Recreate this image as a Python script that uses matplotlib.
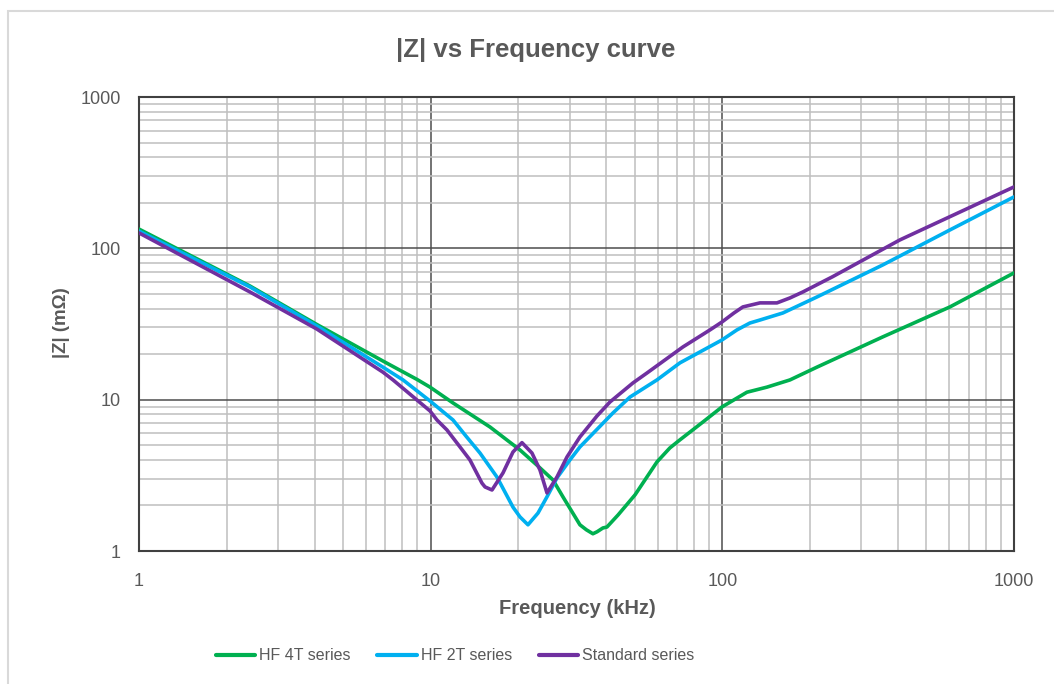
import matplotlib
matplotlib.use("Agg")
import matplotlib.pyplot as plt
from matplotlib.patches import Rectangle
from matplotlib.ticker import LogLocator, FixedLocator, FixedFormatter, NullFormatter

plt.rcParams['font.family'] = ['Liberation Sans', 'DejaVu Sans']

# ---- data (kHz, mOhm) ----
f_4t = [1.0, 2.40, 4.07, 6.86, 8.98, 9.95, 11.93, 15.97, 20.24, 23.3, 26.26, 28.41,
        32.49, 34.2, 36.0, 37.2, 38.96, 40.21, 43.9, 50.2, 59.7, 66.1, 71.5, 85.8,
        99.7, 121.4, 142.2, 170.5, 211.0, 355.0, 603.0, 1000.0]
z_4t = [134, 56.4, 31.4, 18.0, 13.6, 12.1, 9.51, 6.60, 4.65, 3.65, 2.95, 2.28,
        1.49, 1.38, 1.30, 1.34, 1.42, 1.44, 1.73, 2.35, 3.88, 4.80, 5.42, 7.12,
        8.95, 11.2, 12.1, 13.5, 16.4, 26.0, 41.0, 68.8]

f_2t = [1.0, 2.40, 4.07, 6.86, 8.04, 9.95, 11.93, 13.2, 14.76, 16.88, 19.15, 20.24,
        21.56, 23.33, 25.05, 27.10, 30.03, 32.49, 42.17, 48.22, 59.67, 71.54, 99.7,
        112.2, 124.3, 134.6, 161.3, 211.0, 355.0, 603.0, 1000.0]
z_2t = [130, 55.6, 30.7, 16.4, 13.5, 9.80, 7.34, 5.76, 4.44, 3.08, 1.95, 1.68,
        1.49, 1.78, 2.28, 3.04, 4.00, 4.87, 8.17, 10.4, 13.5, 17.5, 24.8,
        28.9, 32.1, 33.6, 37.4, 47.7, 77.7, 132.3, 218.7]

f_std = [1.0, 2.40, 4.07, 6.86, 7.43, 9.95, 10.51, 11.37, 12.31, 13.63, 14.99, 15.36,
         16.23, 17.70, 19.15, 20.56, 22.25, 23.70, 25.05, 27.10, 29.33, 32.49, 37.17,
         41.17, 49.38, 55.14, 73.26, 90.7, 99.7, 109.6, 117.6, 134.6, 153.9, 170.5,
         188.9, 239.0, 406.0, 1000.0]
z_std = [126.4, 51.5, 29.3, 15.2, 13.5, 8.42, 7.34, 6.31, 5.17, 4.00, 2.81, 2.65,
         2.53, 3.28, 4.51, 5.2, 4.44, 3.43, 2.42, 3.08, 4.18, 5.67, 7.80,
         9.65, 12.9, 15.0, 22.3, 28.9, 32.6, 37.4, 41.0, 43.6, 43.6, 47.0,
         51.5, 65.0, 113.6, 254.6]

series_names = ["HF 4T series", "HF 2T series", "Standard series"]
series_colors = ["#00B050", "#00B0F0", "#7030A0"]

x_ticks = [1, 10, 100, 1000]
x_labels = ["1", "10", "100", "1000"]
y_ticks = [1, 10, 100, 1000]
y_labels = ["1", "10", "100", "1000"]

W, H = 1054, 684
fig = plt.figure(figsize=(W / 100, H / 100), dpi=100)

# outer chart border (cropped)
fig.patches.append(Rectangle((8 / W, -0.05), 1.2, (H - 11) / H + 0.05,
                             transform=fig.transFigure, fill=False,
                             edgecolor="#D9D9D9", linewidth=1.5))

ax = fig.add_axes([139 / W, 1 - 551 / H, (1014 - 139) / W, (551 - 97) / H])
ax.set_xscale("log")
ax.set_yscale("log")
ax.set_xlim(1, 1000)
ax.set_ylim(1, 1000)

for f, z, name, c in zip([f_4t, f_2t, f_std], [z_4t, z_2t, z_std], series_names, series_colors):
    ax.plot(f, z, color=c, lw=2.6, label=name, solid_capstyle="round",
            solid_joinstyle="round", zorder=3)

ax.xaxis.set_major_locator(FixedLocator(x_ticks))
ax.xaxis.set_major_formatter(FixedFormatter(x_labels))
ax.yaxis.set_major_locator(FixedLocator(y_ticks))
ax.yaxis.set_major_formatter(FixedFormatter(y_labels))
ax.xaxis.set_minor_locator(LogLocator(base=10, subs=range(2, 10), numticks=20))
ax.yaxis.set_minor_locator(LogLocator(base=10, subs=range(2, 10), numticks=20))
ax.xaxis.set_minor_formatter(NullFormatter())
ax.yaxis.set_minor_formatter(NullFormatter())

ax.grid(which="minor", color="#BFBFBF", lw=1.1, zorder=1)
ax.grid(which="major", color="#4D4D4D", lw=1.1, zorder=2)
ax.set_axisbelow(True)
ax.tick_params(which="both", length=0, labelsize=13, labelcolor="#595959")
ax.tick_params(axis="x", pad=16)
ax.tick_params(axis="y", pad=13)
for s in ax.spines.values():
    s.set_color("#404040")
    s.set_linewidth(1.5)

fig.text(536 / W, 1 - 50 / H, "|Z| vs Frequency curve", ha="center", va="center",
         fontsize=18.5, fontweight="bold", color="#595959")
fig.text(577 / W, 1 - 608 / H, "Frequency (kHz)", ha="center", va="center",
         fontsize=14.5, fontweight="bold", color="#595959")
fig.text(62 / W, 1 - 323 / H, "|Z| (mΩ)", ha="center", va="center", rotation=90,
         fontsize=13.5, fontweight="bold", color="#595959")

handles, labels = ax.get_legend_handles_labels()
leg = fig.legend(handles, labels, loc="center", bbox_to_anchor=(455 / W, 1 - 656 / H),
                 ncol=3, frameon=False, fontsize=11.5, handlelength=2.45,
                 handletextpad=0.25, columnspacing=1.7)
for t in leg.get_texts():
    t.set_color("#595959")
for l in leg.get_lines():
    l.set_linewidth(3)

fig.savefig("out.png", dpi=100)
